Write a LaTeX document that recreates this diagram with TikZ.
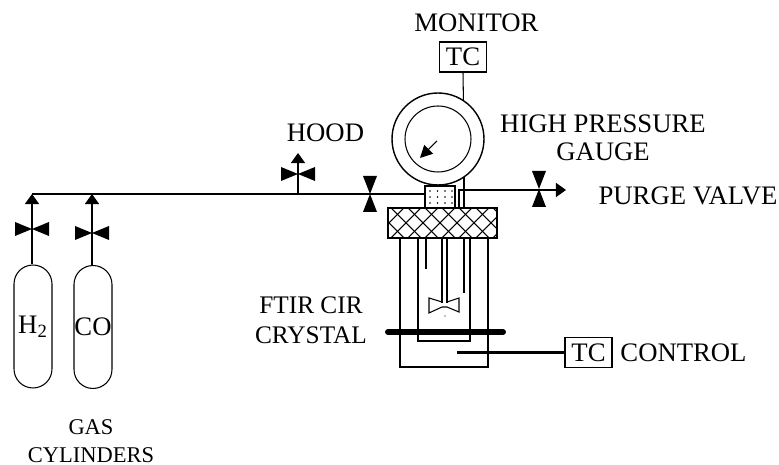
\documentclass[tikz,border=0pt]{standalone}
\usepackage{fontspec}
\setmainfont{Liberation Serif}
\usetikzlibrary{arrows.meta}
\tikzset{
  label/.style = {inner sep=0pt, align=center, font=\fontsize{15.2}{15.9}\selectfont},
  tcbox/.style = {draw, line width=0.7pt, inner sep=0pt, minimum width=0.94cm, minimum height=0.6cm, font=\fontsize{15.2}{15.9}\selectfont},
  cylinder/.style = {draw, line width=0.6pt, inner sep=0pt, minimum width=0.76cm, minimum height=2.46cm, rounded corners=0.38cm, font=\fontsize{15.2}{15.9}\selectfont},
  pipe/.style = {line width=0.8pt},
  thin pipe/.style = {line width=0.6pt},
  tip/.style = {-{Triangle[length=5.7pt,width=8pt]}}
}
% bow-tie valves, #1 = x, #2 = y
\newcommand{\valveh}[2]{\fill (#1-17,#2-7)--(#1+17,#2+7)--(#1+17,#2-7)--(#1-17,#2+7)--cycle;}
\newcommand{\valvev}[2]{\fill (#1-7,#2-18)--(#1+7,#2+18)--(#1-7,#2+18)--(#1+7,#2-18)--cycle;}
\begin{document}
\begin{tikzpicture}[x=0.02cm,y=-0.02cm]
\useasboundingbox (0,0) rectangle (779,465);

% cylinders
\node[cylinder] (hydrogen) at (33,326.5) {H\textsubscript{2}};
\node[cylinder] (carbon) at (93,327) {CO};
\coordinate (corner) at (32,194);
\coordinate (cotop) at (92,194);
\draw[thin pipe,tip] (hydrogen.north -| corner) -- (corner);
\draw[thin pipe,tip] (carbon.north -| cotop) -- (cotop);
\valveh{32}{229}
\valveh{92}{233}

% gauge and block
\node[draw, pipe, circle, minimum size=1.84cm, inner sep=0pt] (gauge) at (438,139) {};
\node[draw, thin pipe, circle, minimum size=1.32cm, inner sep=0pt] (dial) at (438,139) {};
\node[draw, pipe, minimum width=0.6cm, minimum height=0.44cm, inner sep=0pt] (block) at (440,197) {};
\foreach \x in {430,437.5,445,452}
  \foreach \y in {191,197,203}
    \fill (\x,\y) circle (0.5pt);
\coordinate (needle) at (437,141);
\coordinate (needlehead) at (420,158);
\draw[thin pipe,-{Triangle[length=7pt,width=7pt]}] (needle) -- (needlehead);

% main line and valves
\draw[pipe] (corner) -- (block.west |- corner);
\valvev{370}{194}
\coordinate (hoodbase) at (298,194);
\coordinate (hoodtip) at (298,153);
\draw[thin pipe,tip] (hoodbase) -- (hoodtip);
\valveh{298}{174}

% lid
\node[draw, pipe, minimum width=2.18cm, minimum height=0.6cm, inner sep=0pt] (lid) at (442.5,223) {};
\begin{scope}
\clip (lid.south west) rectangle (lid.north east);
\foreach \x in {340,357,...,510} {
  \draw[thin pipe] (\x,208)--(\x+30,238);
  \draw[thin pipe] (\x+30,208)--(\x,238);
}
\end{scope}

% purge side
\coordinate (purgein) at (459,208);
\coordinate (purgeelbow) at (459,190);
\coordinate (purgetip) at (566,190);
\draw[pipe,tip] (purgein) -- (purgeelbow) -- (purgetip);
\coordinate (gaugefoot) at (464,208);
\draw[pipe] (gaugefoot) -- (gaugefoot |- gauge.-55);
\valvev{539}{189}

% monitor
\node[tcbox] (monitor) at (463,57) {TC};
\draw[thin pipe] (monitor.south) -- (gauge.57);

% reactor body
\coordinate (outertl) at (400,238);
\coordinate (outerbr) at (488,367);
\draw[thin pipe] (outertl) -- (outertl |- outerbr) -- (outerbr) -- (outerbr |- outertl);
\coordinate (innertl) at (418,238);
\coordinate (innerbr) at (470,341);
\draw[thin pipe] (innertl) -- (innertl |- innerbr) -- (innerbr) -- (innerbr |- innertl);
\draw[thin pipe] (426,238) -- (426,269);
\draw[thin pipe] (442,238) -- (442,303);
\draw[thin pipe] (447,238) -- (447,303);
\draw[thin pipe] (464,238) -- (464,293);
\draw[thin pipe] (442,302) -- (429,298) -- (429,313) -- (442,307) -- (447,307) -- (459,312) -- (459,298) -- (447,302);
\fill (445,316) circle (0.4pt);

% crystal
\coordinate (crystalL) at (388,332);
\coordinate (crystalR) at (503,332);
\draw[line width=3.4pt, line cap=round] (crystalL) -- (crystalR);

% control
\node[tcbox] (control) at (588.5,352.5) {TC};
\coordinate (probe) at (457,353);
\draw[line width=1.8pt] (probe |- control.west) -- (control.west);

% labels
\node[label] (monitortxt) at (476.5,23) {MONITOR};
\node[label] (hoodtxt) at (325.5,133) {HOOD};
\node[label] (gaugetxt) at (603,138) {HIGH PRESSURE\\GAUGE};
\node[label] (purgetxt) at (688,196) {PURGE VALVE};
\node[label, font=\fontsize{14.4}{17}\selectfont] (crystaltxt) at (311,320) {FTIR CIR\\CRYSTAL};
\node[label] (controltxt) at (683.5,353) {CONTROL};
\node[label, font=\fontsize{12.8}{15.9}\selectfont] (gastxt) at (91,441) {GAS\\CYLINDERS};
\end{tikzpicture}
\end{document}
